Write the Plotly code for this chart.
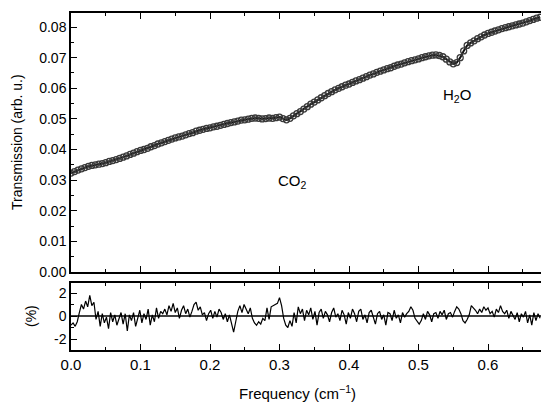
import numpy as np
import plotly.graph_objects as go

# ---- data ----
freq_step_main = 0.005
transmission = [
    0.0323, 0.0328, 0.0333, 0.0337, 0.0341, 0.0345, 0.0348, 0.0350, 0.0352, 0.0354,
    0.0357, 0.0361, 0.0364, 0.0367, 0.0371, 0.0375, 0.0379, 0.0384, 0.0388, 0.0393,
    0.0397, 0.0400, 0.0404, 0.0409, 0.0413, 0.0418, 0.0422, 0.0426, 0.0430, 0.0434,
    0.0438, 0.0441, 0.0444, 0.0448, 0.0452, 0.0455, 0.0460, 0.0463, 0.0466, 0.0469,
    0.0471, 0.0474, 0.0476, 0.0479, 0.0482, 0.0485, 0.0488, 0.0490, 0.0493, 0.0496,
    0.0497, 0.0499, 0.0502, 0.0503, 0.0502, 0.0500, 0.0501, 0.0503, 0.0502, 0.0504,
    0.0506, 0.0501, 0.0497, 0.0502, 0.0510, 0.0517, 0.0524, 0.0532, 0.0540, 0.0548,
    0.0555, 0.0562, 0.0569, 0.0576, 0.0583, 0.0589, 0.0595, 0.0600, 0.0605, 0.0610,
    0.0614, 0.0619, 0.0624, 0.0628, 0.0633, 0.0638, 0.0643, 0.0647, 0.0652, 0.0656,
    0.0660, 0.0664, 0.0667, 0.0672, 0.0676, 0.0679, 0.0683, 0.0687, 0.0690, 0.0693,
    0.0696, 0.0700, 0.0703, 0.0706, 0.0708, 0.0709, 0.0707, 0.0703, 0.0695, 0.0686,
    0.0680, 0.0684, 0.0700, 0.0722, 0.0740, 0.0748, 0.0755, 0.0762, 0.0768, 0.0774,
    0.0779, 0.0783, 0.0787, 0.0791, 0.0795, 0.0798, 0.0801, 0.0804, 0.0807, 0.0810,
    0.0813, 0.0817, 0.0821, 0.0825, 0.0829, 0.0832,
]

freq_step_resid = 0.003
residual = [
    -0.8, -0.6, -0.9, -0.5,
    0.3, 1.0, 0.6, 1.3, 0.8, 1.8, 0.9, 1.2,
    -0.3, 0.4, -0.9, 0.2, -0.6, -0.1, -1.1, 0.3, -0.5, 0.1,
    -0.8, -0.2, 0.3, -0.7, 0.2, -1.3, 0.1, -0.4, 0.3, -0.9,
    -0.1, 0.5, -0.6, 0.2, -0.3, 0.6, -0.8, 0.1, -0.5, 0.7,
    -0.2, 0.4,
    0.2, 0.6, 0.1, 0.9, 0.4, 1.1, 0.3, 0.7, -0.2, 0.5,
    0.9, 0.2, 0.6, -0.1, 0.4, 1.0, 1.2, 0.5, 0.8, 0.1,
    0.3, -0.4, 0.2, 0.5, -0.2, 0.4, -0.1, 0.6, 0.3, -0.3, 0.2, -0.5, 0.1, -0.6,
    -1.4, -0.5,
    0.4, 0.9, 0.3, 1.0, 0.6, 0.2, 0.7, -0.2,
    -0.6, -0.8, -0.5, -0.7, -0.2, -0.4,
    0.7, -0.3, 0.8,
    0.9, 1.0, 1.1, 1.6, 0.9,
    -0.2, -0.8, -1.0, -0.4, -0.9, 0.3, -0.6,
    0.8, 0.2, 0.6, -0.4, 0.5, 0.1, 0.7, -0.3, 0.4, -0.8,
    0.3, 0.6, -0.2, 0.4, 0.1, -0.5, 0.3, 0.7, -0.1, 0.2,
    -0.4, 0.5, 0.1, -0.7, 0.3, -0.2, 0.6, 0.2, -0.5, 0.4,
    0.6, -0.3, 0.1, -0.6, 0.3, 0.5, -0.2, -0.7, 0.2, 0.4,
    -0.3, 0.1, -0.8, 0.3, 0.2, -0.4, 0.5, -0.2, 0.1, -0.6,
    0.3, -0.1, 0.2, 0.4, 0.8, 0.5, -0.2, -0.5, -0.7, -0.4,
    0.2, -0.3, 0.4, 0.1, -0.5, 0.2, 0.3, -0.2, 0.4, 0.1,
    0.5, -0.3, 0.2, 0.3, -0.1, 0.4, 0.8, 0.6, 0.2, -0.4,
    -0.6, -0.3, 0.1, 0.9, 0.7, 0.5, 0.2, 0.6, 0.3, 0.8,
    0.5, 0.7, 0.2, 0.4, -0.1, 0.6, 0.3, 0.9, 0.4, 0.2,
    0.5, -0.2, 0.4, 0.1, -0.3, 0.3, -0.5, 0.2, -0.1, 0.4,
    -0.6, 0.1, -0.8, 0.3, -0.4, 0.2, -0.2,
]

x_ticks = [0.0, 0.1, 0.2, 0.3, 0.4, 0.5, 0.6]
x_tick_labels = ["0.0", "0.1", "0.2", "0.3", "0.4", "0.5", "0.6"]
y_top_ticks = [0.00, 0.01, 0.02, 0.03, 0.04, 0.05, 0.06, 0.07, 0.08]
y_top_labels = ["0.00", "0.01", "0.02", "0.03", "0.04", "0.05", "0.06", "0.07", "0.08"]
y_bot_ticks = [-2, 0, 2]
y_bot_labels = ["-2", "0", "2"]

freq_main = np.round(np.arange(len(transmission)) * freq_step_main, 4)
freq_resid = np.round(np.arange(len(residual)) * freq_step_resid, 4)

FONT = "Liberation Sans, Arial, sans-serif"
W, H = 541, 404
ml, mr, mt, mb = 71, 0, 13, 54
pw = W - ml - mr
ph = H - mt - mb
def yfrac(pix):
    return (H - mb - pix) / ph
def xfrac(pix):
    return (pix - ml) / pw

fig = go.Figure()
fig.add_trace(go.Scatter(
    x=freq_main, y=transmission, mode="lines+markers",
    line=dict(color="#111111", width=2),
    marker=dict(symbol="circle-open", size=6, color="#3a3a3a", line=dict(width=1.3)),
    xaxis="x", yaxis="y", showlegend=False, hoverinfo="skip"))
fig.add_trace(go.Scatter(
    x=freq_resid, y=residual, mode="lines",
    line=dict(color="black", width=1.2),
    xaxis="x2", yaxis="y2", showlegend=False, hoverinfo="skip"))
fig.add_trace(go.Scatter(
    x=[0, 0.7], y=[0, 0], mode="lines",
    line=dict(color="black", width=1.5),
    xaxis="x2", yaxis="y2", showlegend=False, hoverinfo="skip"))

xr = [0, pw / 695.0]
common_x = dict(range=xr, tickvals=x_ticks, ticktext=x_tick_labels, ticks="inside",
                ticklen=6, tickwidth=1.2, tickcolor="black", showline=True,
                linecolor="black", linewidth=1.5, showgrid=False, zeroline=False,
                automargin=False,
                minor=dict(dtick=0.05, tick0=0, ticks="inside", ticklen=3.5,
                           tickcolor="black", tickwidth=1),
                tickfont=dict(family=FONT, size=15, color="black"))
common_y = dict(ticks="inside", ticklen=6, tickwidth=1.2, tickcolor="black",
                showline=True, linecolor="black", linewidth=1.5, showgrid=False,
                zeroline=False, automargin=False,
                tickfont=dict(family=FONT, size=14, color="black"))

fig.update_layout(
    width=W, height=H, margin=dict(l=ml, r=mr, t=mt, b=mb, autoexpand=False),
    paper_bgcolor="white", plot_bgcolor="white",
    font=dict(family=FONT, color="black"),
    xaxis=dict(**common_x, domain=[0, 1], anchor="y", mirror="ticks",
               showticklabels=False),
    yaxis=dict(**common_y, domain=[yfrac(272), 1.0], range=[0, 259 / 3062.0],
               anchor="x", tickvals=y_top_ticks, ticktext=y_top_labels,
               minor=dict(dtick=0.005, tick0=0, ticks="inside", ticklen=3.5,
                          tickcolor="black", tickwidth=1)),
    xaxis2=dict(**common_x, domain=[0, 1], anchor="y2", mirror="ticks"),
    yaxis2=dict(**common_y, domain=[0, yfrac(283)], range=[-34 / 11.5, 33 / 11.5],
                anchor="x2", tickvals=y_bot_ticks, ticktext=y_bot_labels,
                minor=dict(dtick=1, tick0=0, ticks="inside", ticklen=3.5,
                           tickcolor="black", tickwidth=1)),
    annotations=[
        dict(text="CO<sub>2</sub>", x=0.318, y=0.0296, xref="x", yref="y",
             showarrow=False, font=dict(family=FONT, size=15, color="black")),
        dict(text="H<sub>2</sub>O", x=0.555, y=0.0575, xref="x", yref="y",
             showarrow=False, font=dict(family=FONT, size=15, color="black")),
        dict(text="Transmission (arb. u.)", textangle=-90, x=xfrac(17), y=yfrac(142),
             xref="paper", yref="paper", xanchor="center", yanchor="middle",
             showarrow=False, font=dict(family=FONT, size=14, color="black")),
        dict(text="(%)", textangle=-90, x=xfrac(31), y=yfrac(316),
             xref="paper", yref="paper", xanchor="center", yanchor="middle",
             showarrow=False, font=dict(family=FONT, size=14, color="black")),
        dict(text="Frequency (cm<sup>−1</sup>)", x=xfrac(297), y=yfrac(392),
             xref="paper", yref="paper", xanchor="center", yanchor="middle",
             showarrow=False, font=dict(family=FONT, size=15, color="black")),
    ],
)

fig.write_html("out.html", config={"displayModeBar": False},
               post_script="document.body.style.margin='0';document.body.style.overflow='hidden';")
